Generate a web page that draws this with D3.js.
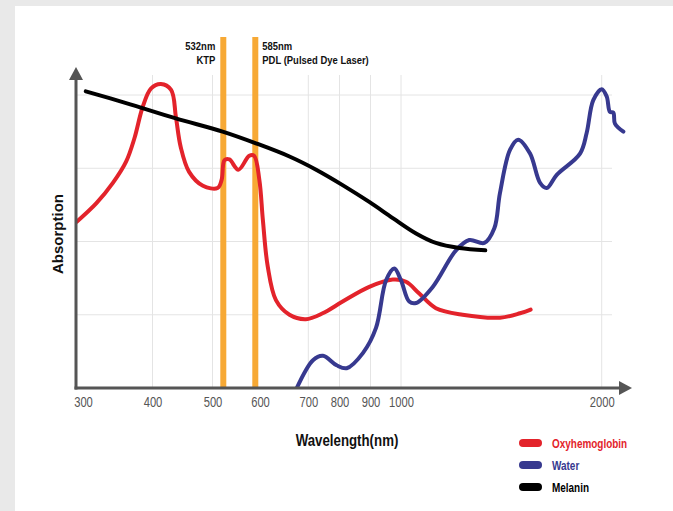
<!DOCTYPE html>
<html lang="en">
  <head>
    <meta charset="UTF-8" />
    <title>Absorption spectra</title>
    <style>
      body { margin: 0; background: #e9e9e9; }
      svg { display: block; font-family: "Liberation Sans", Arial, sans-serif; }
    </style>
  </head>
  <body>
    <svg id="chart" width="673" height="511"></svg>

    <script src="https://d3js.org/d3.v7.min.js"></script>
    <script>
      // tick wavelengths (nm) on the x axis
      const ticks = [300, 400, 500, 600, 700, 800, 900, 1000, 2000];

      // laser lines
      const lasers = [
        { nm: 532, lines: ["532nm", "KTP"], side: "left" },
        { nm: 585, lines: ["585nm", "PDL (Pulsed Dye Laser)"], side: "right" },
      ];

      // [wavelength nm, absorption 0..4]
      const oxyhemoglobin = [
        [291, 2.27], [319, 2.52], [343, 2.8], [362, 3.09], [374, 3.41],
        [386, 3.84], [398, 4.09], [414, 4.15], [431, 4.07], [439, 3.7],
        [447, 3.29], [461, 2.95], [484, 2.76], [515, 2.73], [527, 2.84],
        [534, 3.11], [542, 3.12], [557, 2.98], [575, 3.17], [583, 3.17],
        [598, 2.84], [606, 2.29], [616, 1.66], [633, 1.2], [661, 1.0],
        [695, 0.94], [746, 1.02], [810, 1.18], [896, 1.38], [973, 1.48],
        [1025, 1.45], [1091, 1.29], [1174, 1.09], [1307, 1.0], [1493, 0.96],
        [1593, 1.02], [1646, 1.07],
      ];

      const water = [
        [672, -0.06], [715, 0.38], [747, 0.44], [791, 0.31], [823, 0.27],
        [876, 0.48], [918, 0.82], [951, 1.47], [978, 1.63], [1000, 1.47],
        [1041, 1.18], [1075, 1.16], [1158, 1.38], [1274, 1.88], [1340, 2.02],
        [1415, 1.98], [1465, 2.18], [1493, 2.66], [1543, 3.25], [1584, 3.39],
        [1643, 3.2], [1693, 2.8], [1726, 2.73], [1776, 2.91], [1892, 3.2],
        [1925, 3.48], [1958, 3.93], [2000, 4.08], [2025, 3.98], [2041, 3.77],
        [2058, 3.76], [2066, 3.61], [2108, 3.5],
      ];

      const melanin = [
        [304, 4.05], [362, 3.89], [439, 3.68], [530, 3.5], [587, 3.34],
        [661, 3.16], [725, 2.98], [810, 2.77], [896, 2.54], [973, 2.32],
        [1075, 2.11], [1174, 1.98], [1291, 1.91], [1420, 1.88],
      ];

      const series = [
        { name: "Oxyhemoglobin", data: oxyhemoglobin, color: "#e3232b" },
        { name: "Water", data: water, color: "#37398f" },
        { name: "Melanin", data: melanin, color: "#000000" },
      ];

      const svg = d3.select("#chart");
      const x0 = 76, y0 = 388;
      const K = 0.83; // horizontal squeeze to fake a condensed face

      // hand-drawn axis: piecewise linear, knots
      const x = d3
        .scaleLinear()
        .domain([300, 400, 500, 532, 585, 600, 700, 800, 900, 1000, 2000])
        .range([83, 152.5, 212.5, 223.3, 255.3, 260, 308.3, 339.5, 370.5, 401, 601.7]);
      const y = d3.scaleLinear().domain([0, 4]).range([y0, 95]);

      function label(parent, tx, ty, str, opts) {
        return parent
          .append("text")
          .attr("transform", `translate(${tx},${ty}) scale(${opts.k || K},1)`)
          .attr("text-anchor", opts.anchor || "start")
          .attr("font-size", opts.size)
          .attr("font-weight", opts.weight || "bold")
          .attr("fill", opts.fill || "#111")
          .text(str);
      }

      // white card
      svg.append("rect").attr("x", 15).attr("y", 6).attr("width", 658).attr("height", 505).attr("fill", "#fff");

      // grid (the 600 line sits under the PDL bar)
      const grid = svg.append("g").attr("stroke", "#e4e4e4").attr("stroke-width", 1);
      grid.selectAll("line.h")
        .data([1, 2, 3, 4])
        .join("line")
        .attr("x1", x0).attr("x2", 612)
        .attr("y1", (d) => y(d)).attr("y2", (d) => y(d));
      grid.selectAll("line.v")
        .data(ticks.filter((t) => t !== 300 && t !== 600))
        .join("line")
        .attr("x1", (d) => x(d)).attr("x2", (d) => x(d))
        .attr("y1", y0).attr("y2", 75);

      // laser bars
      svg.append("g")
        .selectAll("rect")
        .data(lasers)
        .join("rect")
        .attr("x", (d) => x(d.nm) - 3)
        .attr("y", 37)
        .attr("width", 6)
        .attr("height", y0 - 37)
        .attr("fill", "#f7a935");

      const lt = svg.append("g");
      lasers.forEach((l) => {
        const left = l.side === "left";
        l.lines.forEach((s, i) =>
          label(lt, x(l.nm) + (left ? -8 : 7), 50 + i * 14, s, {
            size: 11,
            anchor: left ? "end" : "start",
            k: 0.86,
          })
        );
      });

      // curves
      svg.append("clipPath").attr("id", "plot")
        .append("rect").attr("x", x0).attr("y", 0).attr("width", 600).attr("height", y0 - 1);

      const line = d3.line()
        .x((d) => x(d[0]))
        .y((d) => y(d[1]))
        .curve(d3.curveCatmullRom.alpha(0.5));

      svg.append("g")
        .attr("clip-path", "url(#plot)")
        .selectAll("path")
        .data(series)
        .join("path")
        .attr("d", (d) => line(d.data))
        .attr("fill", "none")
        .attr("stroke", (d) => d.color)
        .attr("stroke-width", 4)
        .attr("stroke-linecap", "round")
        .attr("stroke-linejoin", "round");

      // axes with arrow heads
      const ax = svg.append("g").attr("stroke", "#555").attr("fill", "#555");
      ax.append("line").attr("x1", x0).attr("x2", x0).attr("y1", y0 + 1.5).attr("y2", 76).attr("stroke-width", 3);
      ax.append("line").attr("x1", x0 - 1.5).attr("x2", 622).attr("y1", y0).attr("y2", y0).attr("stroke-width", 3);
      ax.append("path").attr("stroke", "none").attr("d", `M${x0},67L${x0 + 7},80L${x0 - 7},80Z`);
      ax.append("path").attr("stroke", "none").attr("d", `M632,${y0}L619,${y0 - 7}L619,${y0 + 7}Z`);

      const xAxis = svg.append("g")
        .attr("transform", `translate(0,${y0})`)
        .call(d3.axisBottom(x).tickValues(ticks).tickSize(0).tickPadding(9).tickFormat(d3.format("d")));
      xAxis.select(".domain").remove();
      xAxis.selectAll("text")
        .attr("font-size", 14)
        .attr("font-family", "'Liberation Sans', Arial, sans-serif")
        .attr("fill", "#555")
        .attr("transform", "scale(0.8,1)");

      // axis titles
      svg.append("text")
        .attr("transform", "translate(63,234) rotate(-90)")
        .attr("text-anchor", "middle")
        .attr("font-weight", "bold")
        .attr("font-size", 15)
        .attr("fill", "#111")
        .text("Absorption");

      label(svg, 347, 446, "Wavelength(nm)", { size: 16, anchor: "middle" });

      // legend
      const lg = svg.append("g").selectAll("g")
        .data(series)
        .join("g")
        .attr("transform", (d, i) => `translate(519,${443 + i * 22})`);
      lg.append("rect").attr("x", 0).attr("y", -4).attr("width", 23).attr("height", 8).attr("rx", 4)
        .attr("fill", (d) => d.color);
      lg.each(function (d) {
        label(d3.select(this), 33, 4.5, d.name, { size: 12, fill: d.color });
      });
    </script>
  </body>
</html>
